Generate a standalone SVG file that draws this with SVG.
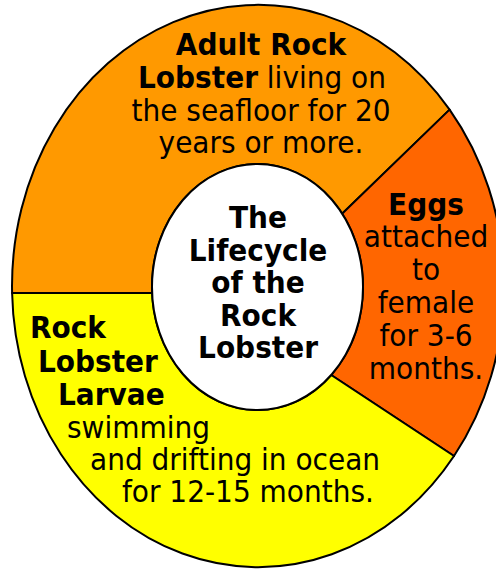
<svg xmlns="http://www.w3.org/2000/svg" width="496" height="570" viewBox="0 0 496 570">
<style>
.seg{stroke:#000;stroke-width:2;stroke-linejoin:round}
text{font-family:"DejaVu Sans","Verdana",sans-serif;font-size:28px;fill:#000}
.b{font-weight:bold}
.c{text-anchor:middle}
</style>
<rect width="496" height="570" fill="#fff"/>
<g id="adult">
<path class="seg" fill="#ff9900" d="M12.1,293 A246,281 0 0 1 449.6,109.6 L342.1,213.7 A105.5,123 0 0 0 152.1,293 Z"/>
<text class="c b" transform="translate(261,55) scale(1,1.08)">Adult Rock</text>
<text class="c" transform="translate(262,88) scale(1,1.08)"><tspan class="b">Lobster</tspan> living on</text>
<text class="c" transform="translate(261,121) scale(1,1.08)">the seafloor for 20</text>
<text class="c" transform="translate(261,153) scale(1,1.08)">years or more.</text>
</g>
<g id="eggs">
<path class="seg" fill="#ff6600" d="M449.6,109.6 A246,281 0 0 1 454,456 L331.2,375 A105.5,123 0 0 0 342.1,213.7 Z"/>
<text class="c b" transform="translate(426,214.5) scale(1,1.08)">Eggs</text>
<text class="c" transform="translate(426,247) scale(1,1.08)">attached</text>
<text class="c" transform="translate(426,280) scale(1,1.08)">to</text>
<text class="c" transform="translate(426,312.5) scale(1,1.08)">female</text>
<text class="c" transform="translate(426,345.5) scale(1,1.08)">for 3-6</text>
<text class="c" transform="translate(426,378.5) scale(1,1.08)">months.</text>
</g>
<g id="larvae">
<path class="seg" fill="#ffff00" d="M454,456 A246,281 0 0 1 12.1,293 L152.1,293 A105.5,123 0 0 0 331.2,375 Z"/>
<text class="b" transform="translate(30,338) scale(1,1.08)">Rock</text>
<text class="b" transform="translate(38,372) scale(1,1.08)">Lobster</text>
<text class="b" transform="translate(58,405) scale(1,1.08)">Larvae</text>
<text transform="translate(67,438) scale(1,1.08)">swimming</text>
<text transform="translate(90,470) scale(1,1.08)">and drifting in ocean</text>
<text transform="translate(122,502) scale(1,1.08)">for 12-15 months.</text>
</g>
<g id="center">
<ellipse cx="257.5" cy="287" rx="105.5" ry="123" fill="#fff" stroke="#000" stroke-width="2"/>
<text class="c b" transform="translate(258,228) scale(1,1.08)">The</text>
<text class="c b" transform="translate(258,260.5) scale(1,1.08)">Lifecycle</text>
<text class="c b" transform="translate(258,293) scale(1,1.08)">of the</text>
<text class="c b" transform="translate(258,325.5) scale(1,1.08)">Rock</text>
<text class="c b" transform="translate(258,358) scale(1,1.08)">Lobster</text>
</g>
<g id="connectors"></g>
</svg>
